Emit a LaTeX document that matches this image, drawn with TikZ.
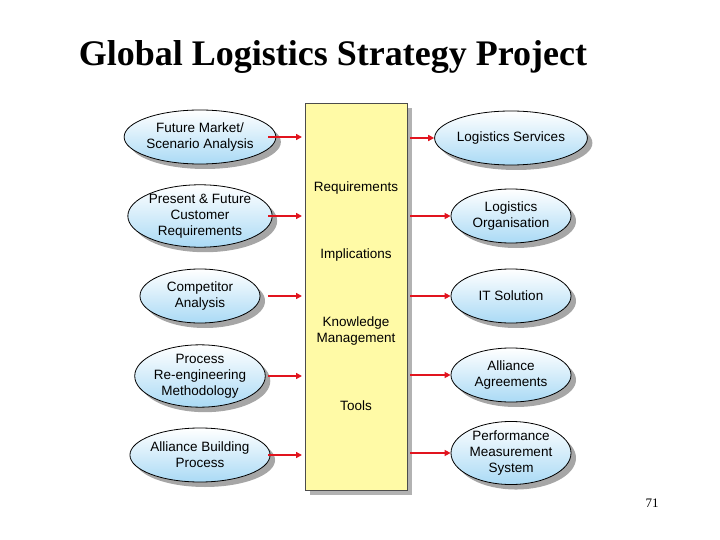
\documentclass[tikz,border=0pt]{standalone}
\usepackage{fontspec}
\setmainfont{Liberation Sans}
\newfontfamily\seriff{Liberation Serif}
\usetikzlibrary{shapes.geometric,arrows.meta,shadows}
\definecolor{ellblue}{RGB}{170,218,245}
\definecolor{arrred}{RGB}{225,20,30}
\begin{document}
\begin{tikzpicture}[x=1pt,y=-1pt,
 ell/.style={ellipse,draw=black,thick,minimum width=120pt,minimum height=54pt,inner sep=0pt,
   top color=white,bottom color=ellblue,align=center,font=\fontsize{13.5}{16}\selectfont,
   drop shadow={shadow xshift=5pt,shadow yshift=-5pt,fill=gray!70,opacity=1}},
 arr/.style={-{Triangle[length=6pt,width=6pt]},arrred,line width=2.4pt},
 lbl/.style={font=\fontsize{13.5}{16.5}\selectfont,align=center}]
\useasboundingbox (0,0) rectangle (720,540);
\node[font=\seriff\bfseries\fontsize{36}{40}\selectfont] (title) at (333,57) {Global Logistics Strategy Project};
\fill[gray!60] (310,108) rectangle (412,495);
\node[draw=gray!60!black,fill=yellow!35,minimum width=102pt,minimum height=387pt,anchor=north west] (box) at (305,103) {};
\node[lbl] (t1) at (356,188) {Requirements};
\node[lbl] (t2) at (356,255) {Implications};
\node[lbl] (t3) at (356,331) {Knowledge\\Management};
\node[lbl] (t4) at (356,406) {Tools};
\foreach \n/\y/\t in {a/137/{Future Market/\\Scenario Analysis},b/216/{Present \& Future\\Customer\\Requirements},c/296/{Competitor\\Analysis},d/376/{Process\\Re-engineering\\Methodology},e/455/{Alliance Building\\Process}}{
 \node[ell] (L\n) at (200,\y) {\t};
 \coordinate (la\n) at (302,\y);
 \draw[arr] (268,\y) -- (la\n);
}
\foreach \n/\y/\t in {a/138/{Logistics Services},b/216/{Logistics\\Organisation},c/296/{IT Solution},d/375/{Alliance\\Agreements},e/453/{Performance\\Measurement\\System}}{
 \node[ell] (R\n) at (511,\y) {\t};
 \coordinate (ra\n) at (410,\y);
 \draw[arr] (ra\n) -- (R\n.west);
}
\node[font=\seriff\fontsize{13}{15}\selectfont] (pg) at (652,503) {71};
\end{tikzpicture}
\end{document}
